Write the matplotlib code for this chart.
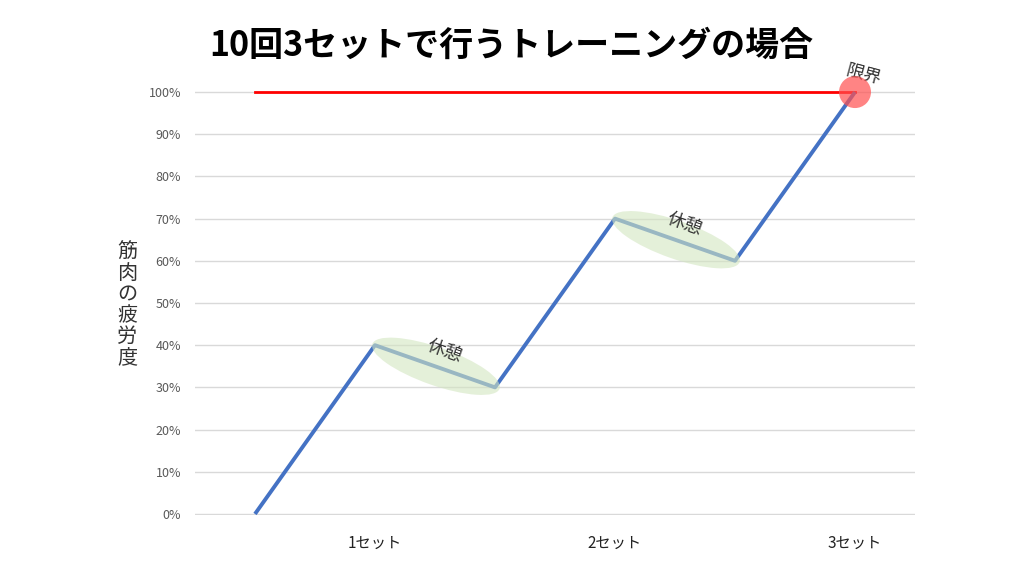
import matplotlib
matplotlib.use("Agg")
import matplotlib.pyplot as plt
from matplotlib.patches import Ellipse, Circle
from matplotlib.transforms import IdentityTransform
import numpy as np

plt.rcParams['font.family'] = ['Noto Sans CJK JP', 'DejaVu Sans']

title = "10回3セットで行うトレーニングの場合"
categories = ["", "1セット", "", "2セット", "", "3セット"]
fatigue = [0.0, 0.40, 0.30, 0.70, 0.60, 1.00]
limit = 1.00
rest_segments = [(1, 2), (3, 4)]
rest_label = "休憩"
limit_label = "限界"
ylabel = "筋肉の疲労度"
yticks = [i / 10 for i in range(11)]

fig = plt.figure(figsize=(10.24, 5.76), dpi=100)
ax = fig.add_axes([195 / 1024, 1 - 515 / 576, 720 / 1024, 424 / 576])
x = np.arange(len(categories))
ax.set_xlim(-0.5, len(categories) - 0.5)
ax.set_ylim(-0.0025, 1.0025)

ax.set_yticks(yticks)
ax.set_yticklabels([f"{int(round(v * 100))}%" for v in yticks], color="#595959", fontsize=9)
ax.set_xticks(x)
ax.set_xticklabels(categories, fontsize=11, color="#222222")
ax.tick_params(axis="both", length=0)
ax.tick_params(axis="y", pad=10)
ax.tick_params(axis="x", pad=14)
ax.grid(axis="y", color="#d9d9d9", linewidth=1)
ax.set_axisbelow(True)
for s in ax.spines.values():
    s.set_visible(False)

# limit line
ax.plot([x[0], x[-1]], [limit, limit], color="#ff0000", linewidth=2, zorder=3, clip_on=False)

# main line
ax.plot(x, fatigue, color="#4472c4", linewidth=2.8, zorder=4, solid_capstyle="butt", clip_on=False)

# rest ellipses (drawn in pixel space from data positions)
fig.canvas.draw()
for i0, i1 in rest_segments:
    p0 = ax.transData.transform((x[i0], fatigue[i0]))
    p1 = ax.transData.transform((x[i1], fatigue[i1]))
    c = (p0 + p1) / 2
    d = p1 - p0
    ang = np.degrees(np.arctan2(d[1], d[0]))
    L = np.hypot(*d)
    e = Ellipse(c + np.array([1, 0]), width=L * 1.06, height=38, angle=ang,
                transform=IdentityTransform(), facecolor="#d3e6c1", edgecolor="none",
                alpha=0.6, zorder=2)
    fig.patches.append(e)
    e.set_figure(fig)
    n = np.array([-d[1], d[0]]) / L
    tp = c + n * 16 + np.array([4, 0])
    fig.text(tp[0] / 1024, tp[1] / 576, rest_label, rotation=ang, ha="center", va="center",
             fontsize=13, color="#333333", rotation_mode="anchor", zorder=5)

# limit circle
pc = ax.transData.transform((x[-1], fatigue[-1]))
circ = Circle(pc, radius=16, transform=IdentityTransform(), facecolor="#ff5050",
              alpha=0.7, edgecolor="none", zorder=5)
fig.patches.append(circ)
circ.set_figure(fig)
fig.text((pc[0] + 8) / 1024, (pc[1] + 17) / 576, limit_label, rotation=-15, ha="center",
         va="center", fontsize=13, color="#333333", rotation_mode="anchor")

# y label stacked
fig.text(127 / 1024, 1 - 305 / 576, "\n".join(ylabel), ha="center", va="center",
         fontsize=14.5, color="#333333", linespacing=1.0)

fig.text(511 / 1024, 1 - 45 / 576, title, ha="center", va="center", fontsize=24.5,
         fontweight="bold", color="#000000")

fig.savefig("out.png", dpi=100)
